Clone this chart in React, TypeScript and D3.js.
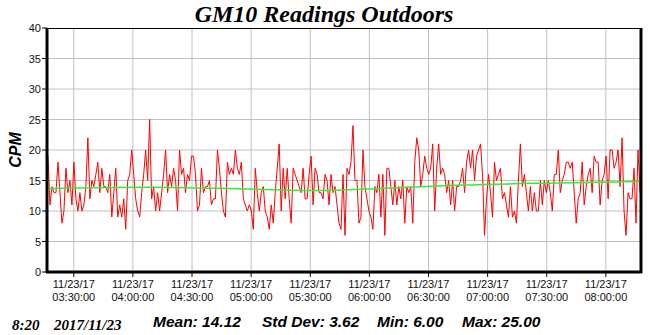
import React from "react";
import * as d3 from "d3";

const W = 650;
const H = 335;

// CPM readings (one per sample, left to right)
const cpmA = [19,11,14,13,13,18,13,8,10,17,13,15,11,18,12,10,13,10,11,14,22,12,15,14,16,18,13,17,14,14,13,16,9,13,17,9,11,9,12,7,15,16,20,16,12,10,9,13,16,20,15];
const cpmB = [25,12,14,10,13,10,13,16,20,13,16,14,17,15,10,20,16,17,13,16,15,19,19,16,10,11,17,13,14,14,15,11,12,12,20,17,13,10,9,18,16,17,16,20,17,16,18,12,11,10,11,10,7];
const cpmC = [17,13,10,13,14,10,9,7,11,8,13,17,21,10,17,12,17,12,8,17,16,15,14,13,17,12,12,16,19,11,17,16,13,13,12,16,15,11,16,13,14,11,8,7,16,6,17,16,18,24];
const cpmD = [15,15,8,9,20,14,12,10,9,7,14,13,16,9,16,6,17,17,14,11,15,11,14,12,15,8,14,13,14,8,18,22,20,14,16,19,17,16,17,21,10,17,21,16,17,16,13,15,11,15,10,14,14,15,17];
const cpmE = [13,18,20,17,20,15,19,20,21,16,6,12,16,13,9,18,15,16,17,12,13,11,9,14,9,10,8,15,21,14,16,13,10,14,10,13,10,10,15,11,15,13,15,13,10,16,16,20,13,15,16,18];
const cpmF = [18,17,18,13,8,12,13,18,11,14,16,17,13,19,18,18,11,15,16,19,12,20,20,17,18,20,14,22,10,6,13,12,12,17,8,20,13];
const cpm = [...cpmA, ...cpmB, ...cpmC, ...cpmD, ...cpmE, ...cpmF];

// Trend line (fraction of time range, CPM)
const trendPos = [0, 0.17, 0.34, 0.46, 0.56, 0.7, 0.86, 1];
const trendVal = [13.7, 13.9, 13.6, 13.35, 13.7, 14.25, 14.6, 14.85];

const yTicks = [0, 5, 10, 15, 20, 25, 30, 35, 40];
const startTime = new Date(2017, 10, 23, 3, 16, 25);
const endTime = new Date(2017, 10, 23, 8, 17, 50);

const titleText = "GM10 Readings Outdoors";
const yLabel = "CPM";
const stampTime = "8:20";
const stampDate = "2017/11/23";
const stats = ["Mean: 14.12", "Std Dev: 3.62", "Min: 6.00", "Max: 25.00"];

export default function App() {
  const L = 47, R = 641, T = 28, B = 272;
  const x = d3.scaleTime().domain([startTime, endTime]).range([L, R]);
  const y = d3.scaleLinear().domain([0, 40]).range([B, T]);
  const span = endTime.getTime() - startTime.getTime();
  const step = span / (cpm.length - 1);
  const pts = cpm.map((v, i) => ({ t: new Date(startTime.getTime() + (i + 0.5) * step * (1 - 1 / cpm.length)), v }));
  const line = d3.line<{ t: Date; v: number }>().x(d => x(d.t)).y(d => y(d.v));
  const tr = trendPos.map((p, i) => ({ t: new Date(startTime.getTime() + p * span), v: trendVal[i] }));
  const trendLine = d3.line<{ t: Date; v: number }>().x(d => x(d.t)).y(d => y(d.v)).curve(d3.curveMonotoneX);
  const xTicks = x.ticks(d3.timeMinute.every(30)!);
  const f1 = d3.timeFormat("%m/%d/%y");
  const f2 = d3.timeFormat("%H:%M:%S");
  const statX = [153, 262, 377, 462];
  const sans = "'Liberation Sans', Arial, sans-serif";
  const serif = "'Liberation Serif', 'Times New Roman', serif";
  return (
    <svg width={W} height={H} style={{ position: "absolute", left: 0, top: 0, background: "#fff" }}>
      <rect x={0} y={0} width={W} height={H} fill="#fff" />
      <text x={324} y={22} textAnchor="middle" fontFamily={serif} fontWeight="bold" fontStyle="italic" fontSize={24}>{titleText}</text>
      {yTicks.filter(v => v > 0 && v < 40).map(v => (
        <line key={"gy" + v} x1={L} x2={R} y1={y(v)} y2={y(v)} stroke="#c0c0c0" strokeWidth={1} />
      ))}
      {xTicks.map((t, i) => (
        <line key={"gx" + i} x1={x(t)} x2={x(t)} y1={T} y2={B} stroke="#c0c0c0" strokeWidth={1} />
      ))}
      <line x1={L} x2={R} y1={T + 0.5} y2={T + 0.5} stroke="#000" strokeWidth={1} />
      <path d={line(pts) || ""} fill="none" stroke="#ff0000" strokeWidth={1} />
      <path d={trendLine(tr) || ""} fill="none" stroke="#33ee33" strokeWidth={1.5} />
      <line x1={L} x2={L} y1={T} y2={B + 1} stroke="#000" strokeWidth={3} />
      <line x1={R} x2={R} y1={T} y2={B + 1} stroke="#000" strokeWidth={3} />
      <line x1={L - 1} x2={R + 1} y1={B} y2={B} stroke="#000" strokeWidth={3} />
      {yTicks.map(v => (
        <g key={"yt" + v}>
          <line x1={L - 5} x2={L} y1={y(v)} y2={y(v)} stroke="#000" strokeWidth={1} />
          <text x={L - 6} y={y(v) + 4} textAnchor="end" fontFamily={sans} fontSize={11} fill="#111">{v}</text>
        </g>
      ))}
      {xTicks.map((t, i) => (
        <g key={"xt" + i}>
          <line x1={x(t)} x2={x(t)} y1={B} y2={B + 5} stroke="#000" strokeWidth={1} />
          <text x={x(t)} y={288} textAnchor="middle" fontFamily={sans} fontSize={11} fill="#111">{f1(t)}</text>
          <text x={x(t)} y={301} textAnchor="middle" fontFamily={sans} fontSize={11} fill="#111">{f2(t)}</text>
        </g>
      ))}
      <text transform={`translate(21,${(T + B) / 2}) rotate(-90)`} textAnchor="middle" fontFamily={sans} fontWeight="bold" fontStyle="italic" fontSize={16}>{yLabel}</text>
      <text x={12} y={330} fontFamily={serif} fontWeight="bold" fontStyle="italic" fontSize={15}>{stampTime}</text>
      <text x={54} y={330} fontFamily={serif} fontWeight="bold" fontStyle="italic" fontSize={15}>{stampDate}</text>
      {stats.map((s, i) => (
        <text key={"st" + i} x={statX[i]} y={327} fontFamily={sans} fontWeight="bold" fontStyle="italic" fontSize={15.5}>{s}</text>
      ))}
    </svg>
  );
}
